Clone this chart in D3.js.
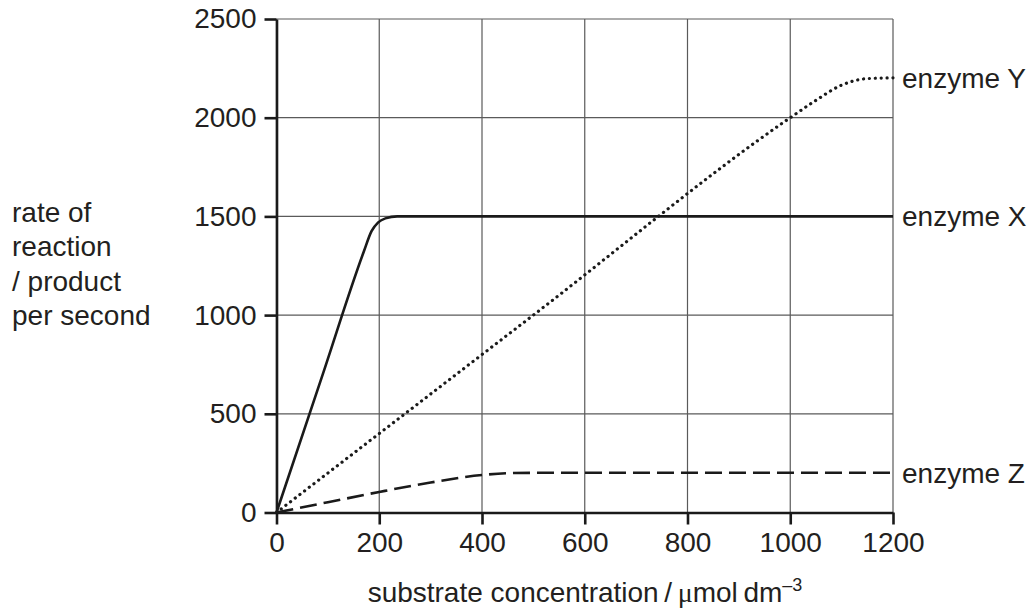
<!DOCTYPE html>
<html lang="en">
<head>
    <meta charset="UTF-8">
    <title>rate of reaction</title>
    <script src="https://cdn.jsdelivr.net/npm/d3@7"></script>
    <style>
        body{
            margin: 0;
            background: #ffffff;
        }
        text{
            font-family: "Liberation Sans", Arial, sans-serif;
            fill: #231f20;
        }
        .grid line{
            stroke: #5a5a5a;
            stroke-width: 1.2;
        }
    </style>
</head>
<body>
<svg width="1036" height="612" id="chart"></svg>

<script>
    // data
    let xTicks = [0, 200, 400, 600, 800, 1000, 1200]
    let yTicks = [0, 500, 1000, 1500, 2000, 2500]

    let enzymeX_conc = [0, 90, 170, 185, 198, 212, 235, 1200]
    let enzymeX_rate = [0, 700, 1322, 1425, 1470, 1490, 1500, 1500]

    let enzymeY_conc = [0, 500, 1000, 1050, 1100, 1150, 1200]
    let enzymeY_rate = [0, 1000, 2000, 2088, 2165, 2198, 2202]

    let enzymeZ_conc = [0, 100, 200, 300, 400, 450, 500, 1200]
    let enzymeZ_rate = [0, 52, 104, 152, 190, 199, 201, 201]

    let yLabelLines = ["rate of", "reaction", "/ product", "per second"]

    let svg = d3.select("#chart")

    let x = d3.scaleLinear().domain([0, 1200]).range([276.5, 893])
    let y = d3.scaleLinear().domain([0, 2500]).range([512.5, 19])

    // grid
    let grid = svg.append("g").attr("class", "grid")
    grid.selectAll(".vx")
        .data(xTicks)
        .enter().append("line")
        .attr("x1", d => x(d)).attr("x2", d => x(d))
        .attr("y1", y(0)).attr("y2", y(2500))
    grid.selectAll(".hy")
        .data(yTicks)
        .enter().append("line")
        .attr("x1", x(0)).attr("x2", x(1200))
        .attr("y1", d => y(d)).attr("y2", d => y(d))

    // axes
    svg.append("g")
        .attr("transform", "translate(0," + y(0) + ")")
        .call(d3.axisBottom(x).tickValues(xTicks).tickFormat(d3.format("d"))
            .tickSize(12).tickSizeOuter(0).tickPadding(8))
    svg.append("g")
        .attr("transform", "translate(" + x(0) + ",0)")
        .call(d3.axisLeft(y).tickValues(yTicks).tickFormat(d3.format("d"))
            .tickSize(12).tickSizeOuter(0).tickPadding(8))

    svg.selectAll(".domain").attr("stroke", "#1a1a1a").attr("stroke-width", 2.6)
    svg.selectAll(".tick line").attr("stroke", "#1a1a1a").attr("stroke-width", 2.6)
    svg.selectAll(".tick text")
        .attr("font-family", '"Liberation Sans", Arial, sans-serif')
        .attr("font-size", 28)
        .attr("fill", "#231f20")

    // curves
    function series(cx, cy){
        return cx.map((c, i) => [c, cy[i]])
    }
    let line = d3.line()
        .x(d => x(d[0]))
        .y(d => y(d[1]))
        .curve(d3.curveMonotoneX)

    svg.append("path")
        .datum(series(enzymeY_conc, enzymeY_rate))
        .attr("d", line)
        .attr("fill", "none")
        .attr("stroke", "#1a1a1a")
        .attr("stroke-width", 3.2)
        .attr("stroke-linecap", "round")
        .attr("stroke-dasharray", "0.1 5.8")

    svg.append("path")
        .datum(series(enzymeZ_conc, enzymeZ_rate))
        .attr("d", line)
        .attr("fill", "none")
        .attr("stroke", "#1a1a1a")
        .attr("stroke-width", 2.6)
        .attr("stroke-dasharray", "17 7")

    svg.append("path")
        .datum(series(enzymeX_conc, enzymeX_rate))
        .attr("d", line)
        .attr("fill", "none")
        .attr("stroke", "#1a1a1a")
        .attr("stroke-width", 2.6)

    // curve labels
    let labels = [
        {name: "enzyme Y", v: enzymeY_rate[enzymeY_rate.length - 1]},
        {name: "enzyme X", v: enzymeX_rate[enzymeX_rate.length - 1]},
        {name: "enzyme Z", v: enzymeZ_rate[enzymeZ_rate.length - 1]}
    ]
    svg.selectAll(".lab")
        .data(labels)
        .enter().append("text")
        .attr("x", x(1200) + 9)
        .attr("y", d => y(d.v))
        .attr("dy", "0.35em")
        .attr("font-size", 28)
        .text(d => d.name)

    // y label
    svg.append("text")
        .attr("x", 12)
        .attr("y", 222)
        .attr("font-size", 28)
        .selectAll("tspan")
        .data(yLabelLines)
        .enter().append("tspan")
        .attr("x", 12)
        .attr("dy", (d, i) => i === 0 ? 0 : 34.3)
        .text(d => d)

    // x label
    let xl = svg.append("text")
        .attr("x", 585)
        .attr("y", 602)
        .attr("text-anchor", "middle")
        .attr("font-size", 28)
    xl.append("tspan").text("substrate concentration\u2009/\u2009")
    xl.append("tspan").attr("font-family", '"Liberation Serif", serif').text("\u03bc")
    xl.append("tspan").text("mol\u2009dm")
    xl.append("tspan").attr("font-size", 18).attr("dy", -11).text("\u20133")
</script>
</body>
</html>
